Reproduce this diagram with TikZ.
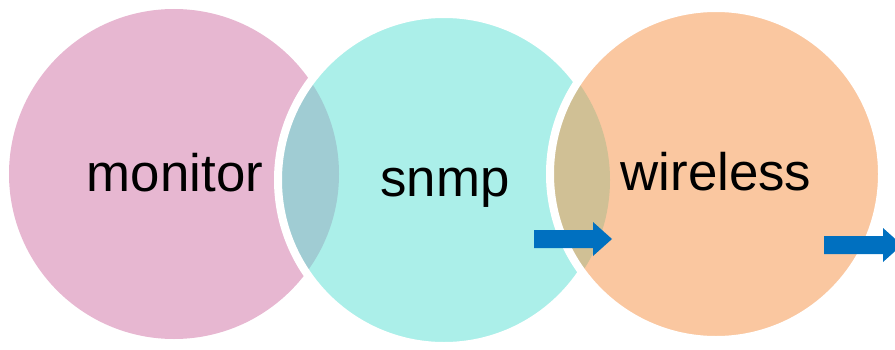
\documentclass[tikz,border=0pt]{standalone}
\usepackage{fontspec}
\setmainfont{Liberation Sans}
\definecolor{monpink}{RGB}{231,183,209}
\definecolor{snmpcyan}{RGB}{171,239,233}
\definecolor{wlorange}{RGB}{250,199,160}
\definecolor{lensa}{RGB}{160,204,211}
\definecolor{lensb}{RGB}{208,192,149}
\definecolor{arrowblue}{RGB}{0,112,192}
\tikzset{
  lbl/.style={anchor=base, font=\fontsize{53}{60}\selectfont, inner sep=0pt},
  gap/.style={draw=white, line width=8bp},
  blkarrow/.pic={
    \fill[arrowblue] (0,-9) -- (59,-9) -- (59,-17) -- (78,0) -- (59,17) -- (59,9) -- (0,9) -- cycle;
  }
}
\begin{document}
\begin{tikzpicture}[x=1bp,y=1bp]
    \useasboundingbox (0,0) rectangle (895,349);
    \clip (0,0) rectangle (895,349);

    \coordinate (mon) at (174,175);
    \coordinate (snm) at (444,169);
    \coordinate (wls) at (716,175);

    % circles, left to right
    \fill[monpink] (mon) circle[radius=165];
    \fill[snmpcyan] (snm) circle[radius=166];
    \begin{scope}
        \clip (mon) circle[radius=165];
        \fill[lensa] (snm) circle[radius=166];
    \end{scope}
    \path[gap] (snm) circle[radius=166];

    \fill[wlorange] (wls) circle[radius=166];
    \begin{scope}
        \clip (snm) circle[radius=166];
        \fill[lensb] (wls) circle[radius=166];
    \end{scope}
    \path[gap] (wls) circle[radius=166];

    \node[lbl] (monitor) at (175,158) {monitor};
    \node[lbl] (snmp) at (445,153) {snmp};
    \node[lbl] (wireless) at (716,159) {wireless};

    \pic at (534,110) {blkarrow};
    \pic at (824,104) {blkarrow};
\end{tikzpicture}
\end{document}
